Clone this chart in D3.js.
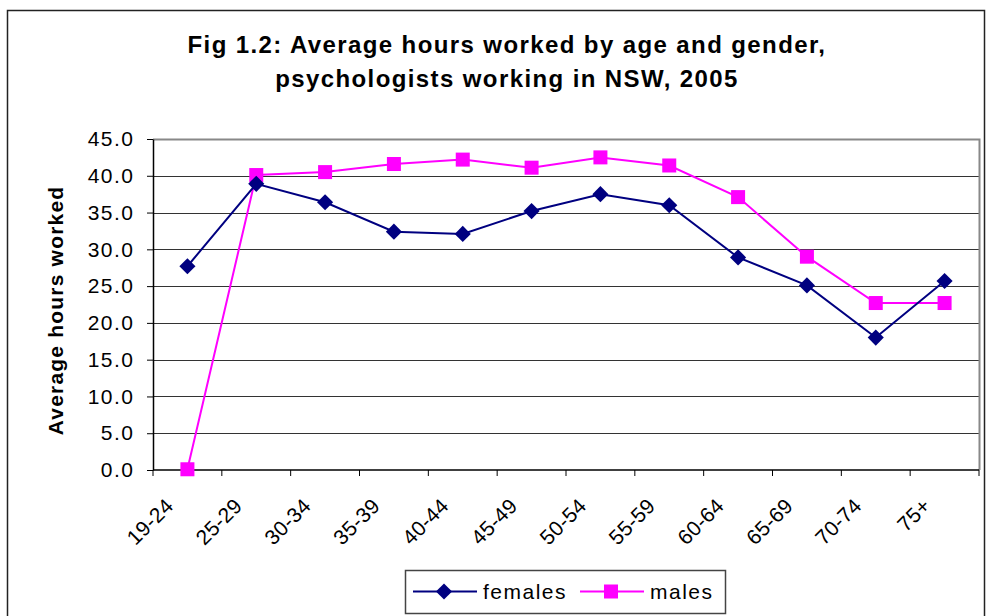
<!DOCTYPE html>
<html>
<head>
<meta charset="utf-8">
<script src="https://cdn.jsdelivr.net/npm/d3@7"></script>
<style>
  body { margin: 0; background: #fff; }
  svg text { font-family: "Liberation Sans", Arial, sans-serif; fill: #000; }
</style>
</head>
<body>
<svg id="chart" width="988" height="616"></svg>
<script>
// data
const ageGroups = ['19-24', '25-29', '30-34', '35-39', '40-44', '45-49', '50-54', '55-59', '60-64', '65-69', '70-74', '75+'];
const females = [27.7, 38.9, 36.4, 32.4, 32.1, 35.2, 37.5, 36.0, 28.9, 25.1, 18.0, 25.7];
const males = [0.1, 40.1, 40.5, 41.6, 42.2, 41.1, 42.5, 41.4, 37.1, 29.0, 22.7, 22.7];
const yTicks = [0, 5, 10, 15, 20, 25, 30, 35, 40, 45];
const titleLines = ['Fig 1.2: Average hours worked by age and gender,', 'psychologists working in NSW, 2005'];

const series = [
  { name: 'females', values: females, color: '#000080', marker: 'diamond' },
  { name: 'males', values: males, color: '#ff00ff', marker: 'square' }
];

const svg = d3.select('#chart');
const m = { left: 153, right: 979, top: 139, bottom: 470 };

// outer frame
svg.append('rect')
  .attr('x', 7.5).attr('y', 10.5)
  .attr('width', 977).attr('height', 620)
  .attr('fill', 'none').attr('stroke', '#222').attr('stroke-width', 1.5);

svg.append('g').selectAll('text')
  .data(titleLines).enter().append('text')
  .attr('x', 507).attr('y', (d, i) => 53 + i * 34)
  .attr('text-anchor', 'middle')
  .style('font-size', '24px').style('font-weight', 'bold').style('letter-spacing', '1.4px')
  .text(d => d);

const x = d3.scaleBand().domain(ageGroups).range([m.left, m.right]);
const y = d3.scaleLinear().domain([0, 45]).range([m.bottom, m.top]);

// gridlines
svg.append('g').selectAll('line')
  .data(yTicks.slice(1, -1)).enter().append('line')
  .attr('x1', m.left).attr('x2', m.right)
  .attr('y1', d => Math.round(y(d)) + 0.5).attr('y2', d => Math.round(y(d)) + 0.5)
  .attr('stroke', '#333').attr('stroke-width', 1);

// plot border (top/right gray)
svg.append('path')
  .attr('d', `M${m.left},${m.top + 0.5}H${m.right + 0.5}V${m.bottom}`)
  .attr('fill', 'none').attr('stroke', '#888').attr('stroke-width', 2);

// y axis
const yAxis = svg.append('g')
  .attr('transform', `translate(${m.left},0)`)
  .call(d3.axisLeft(y).tickValues(yTicks).tickFormat(d3.format('.1f')).tickSize(6).tickSizeOuter(0).tickPadding(12.5));
yAxis.selectAll('text').style('font-size', '21px').style('letter-spacing', '1.5px');
yAxis.select('.domain').attr('stroke-width', 1.5);

// x axis with ticks between categories
const xAxis = svg.append('g').attr('transform', `translate(0,${m.bottom})`);
xAxis.append('line').attr('x1', m.left).attr('x2', m.right).attr('stroke', '#000').attr('stroke-width', 1.5);
xAxis.selectAll('.tk')
  .data(d3.range(ageGroups.length + 1)).enter().append('line')
  .attr('x1', i => m.left + i * x.step()).attr('x2', i => m.left + i * x.step())
  .attr('y1', 0).attr('y2', 6).attr('stroke', '#000');
xAxis.selectAll('text')
  .data(ageGroups).enter().append('text')
  .attr('transform', d => `translate(${x(d) + x.bandwidth() / 2 - 18},${32}) rotate(-45)`)
  .attr('text-anchor', 'end')
  .attr('dy', '0.35em')
  .style('font-size', '21px').style('letter-spacing', '0.3px')
  .text(d => d);

svg.append('text')
  .attr('transform', `translate(63,${(m.top + m.bottom) / 2 + 6}) rotate(-90)`)
  .attr('text-anchor', 'middle')
  .style('font-size', '21px').style('font-weight', 'bold').style('letter-spacing', '1.2px')
  .text('Average hours worked');

// series
const line = d3.line().x((d, i) => x(ageGroups[i]) + x.bandwidth() / 2).y(d => y(d));
const diamond = d3.symbol().type(d3.symbolSquare).size(130);

function drawMarker(sel, s) {
  if (s.marker === 'diamond') {
    sel.append('path').attr('d', diamond).attr('transform', 'rotate(45)').attr('fill', s.color);
  } else {
    sel.append('rect').attr('x', -7).attr('y', -7).attr('width', 14).attr('height', 14).attr('fill', s.color);
  }
}

series.slice().reverse().forEach(s => {
  const g = svg.append('g');
  g.append('path').datum(s.values).attr('d', line)
    .attr('fill', 'none').attr('stroke', s.color).attr('stroke-width', 2);
  g.selectAll('g.mk').data(s.values).enter().append('g')
    .attr('transform', (d, i) => `translate(${x(ageGroups[i]) + x.bandwidth() / 2},${y(d)})`)
    .each(function () { drawMarker(d3.select(this), s); });
});

// legend
const lg = svg.append('g').attr('transform', 'translate(405,570)');
lg.append('rect').attr('x', 0.5).attr('y', 0.5).attr('width', 320).attr('height', 43)
  .attr('fill', '#fff').attr('stroke', '#444').attr('stroke-width', 1.5);
const items = [{ s: series[0], x: 8 }, { s: series[1], x: 175 }];
items.forEach(it => {
  const g = lg.append('g').attr('transform', `translate(${it.x},21.5)`);
  g.append('line').attr('x1', 0).attr('x2', 64).attr('stroke', it.s.color).attr('stroke-width', 2);
  const mk = g.append('g').attr('transform', 'translate(31,0)');
  drawMarker(mk, it.s);
  g.append('text').attr('x', 70).attr('dy', '0.35em').style('font-size', '21px').style('letter-spacing', '1.5px').text(it.s.name);
});
</script>
</body>
</html>
